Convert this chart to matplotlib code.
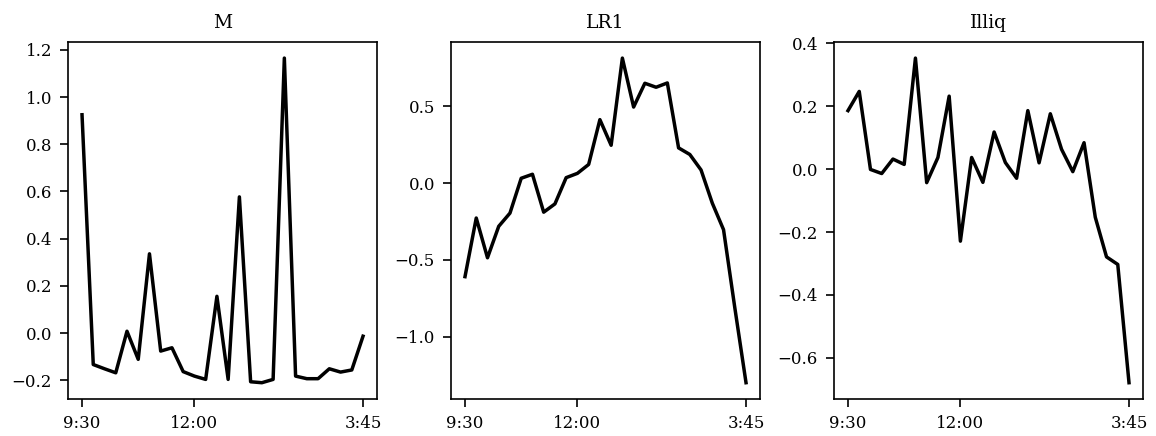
import matplotlib
matplotlib.use("Agg")
import matplotlib.pyplot as plt

# 15-minute intervals from 9:30 to 3:45 (26 points)
x = list(range(26))
tick_pos = [0, 10, 25]
tick_labels = ["9:30", "12:00", "3:45"]

m_vals = [0.925, -0.133, -0.151, -0.168, 0.008, -0.111, 0.336, -0.076, -0.062, -0.163,
          -0.182, -0.196, 0.156, -0.196, 0.577, -0.206, -0.210, -0.196, 1.165, -0.182,
          -0.193, -0.193, -0.151, -0.165, -0.156, -0.013]
lr1_vals = [-0.609, -0.227, -0.486, -0.281, -0.195, 0.032, 0.058, -0.189, -0.135, 0.036,
            0.064, 0.122, 0.414, 0.247, 0.815, 0.496, 0.651, 0.625, 0.653, 0.230,
            0.187, 0.086, -0.130, -0.303, -0.810, -1.300]
illiq_vals = [0.186, 0.247, -0.001, -0.014, 0.032, 0.015, 0.353, -0.043, 0.037, 0.232,
              -0.229, 0.037, -0.042, 0.118, 0.021, -0.029, 0.186, 0.020, 0.176, 0.063,
              -0.008, 0.084, -0.153, -0.279, -0.303, -0.679]

titles = ["M", "LR1", "Illiq"]
series = [m_vals, lr1_vals, illiq_vals]

plt.rcParams["font.family"] = "DejaVu Serif"
plt.rcParams["font.size"] = 12
plt.rcParams["axes.linewidth"] = 1.2
for axis in ("xtick", "ytick"):
    plt.rcParams[f"{axis}.major.size"] = 5.5
    plt.rcParams[f"{axis}.major.width"] = 1.2
    plt.rcParams[f"{axis}.major.pad"] = 6

fig, axes = plt.subplots(1, 3, figsize=(11.56, 4.36), dpi=100)
fig.subplots_adjust(left=0.0588, right=0.9888, bottom=0.085, top=0.904, wspace=0.239)

for ax, title, vals in zip(axes, titles, series):
    ax.plot(x, vals, color="black", linewidth=2.5)
    ax.set_title(title, fontsize=13.5, pad=10)
    ax.set_xticks(tick_pos)
    ax.set_xticklabels(tick_labels)

fig.savefig("out.png", dpi=100)
